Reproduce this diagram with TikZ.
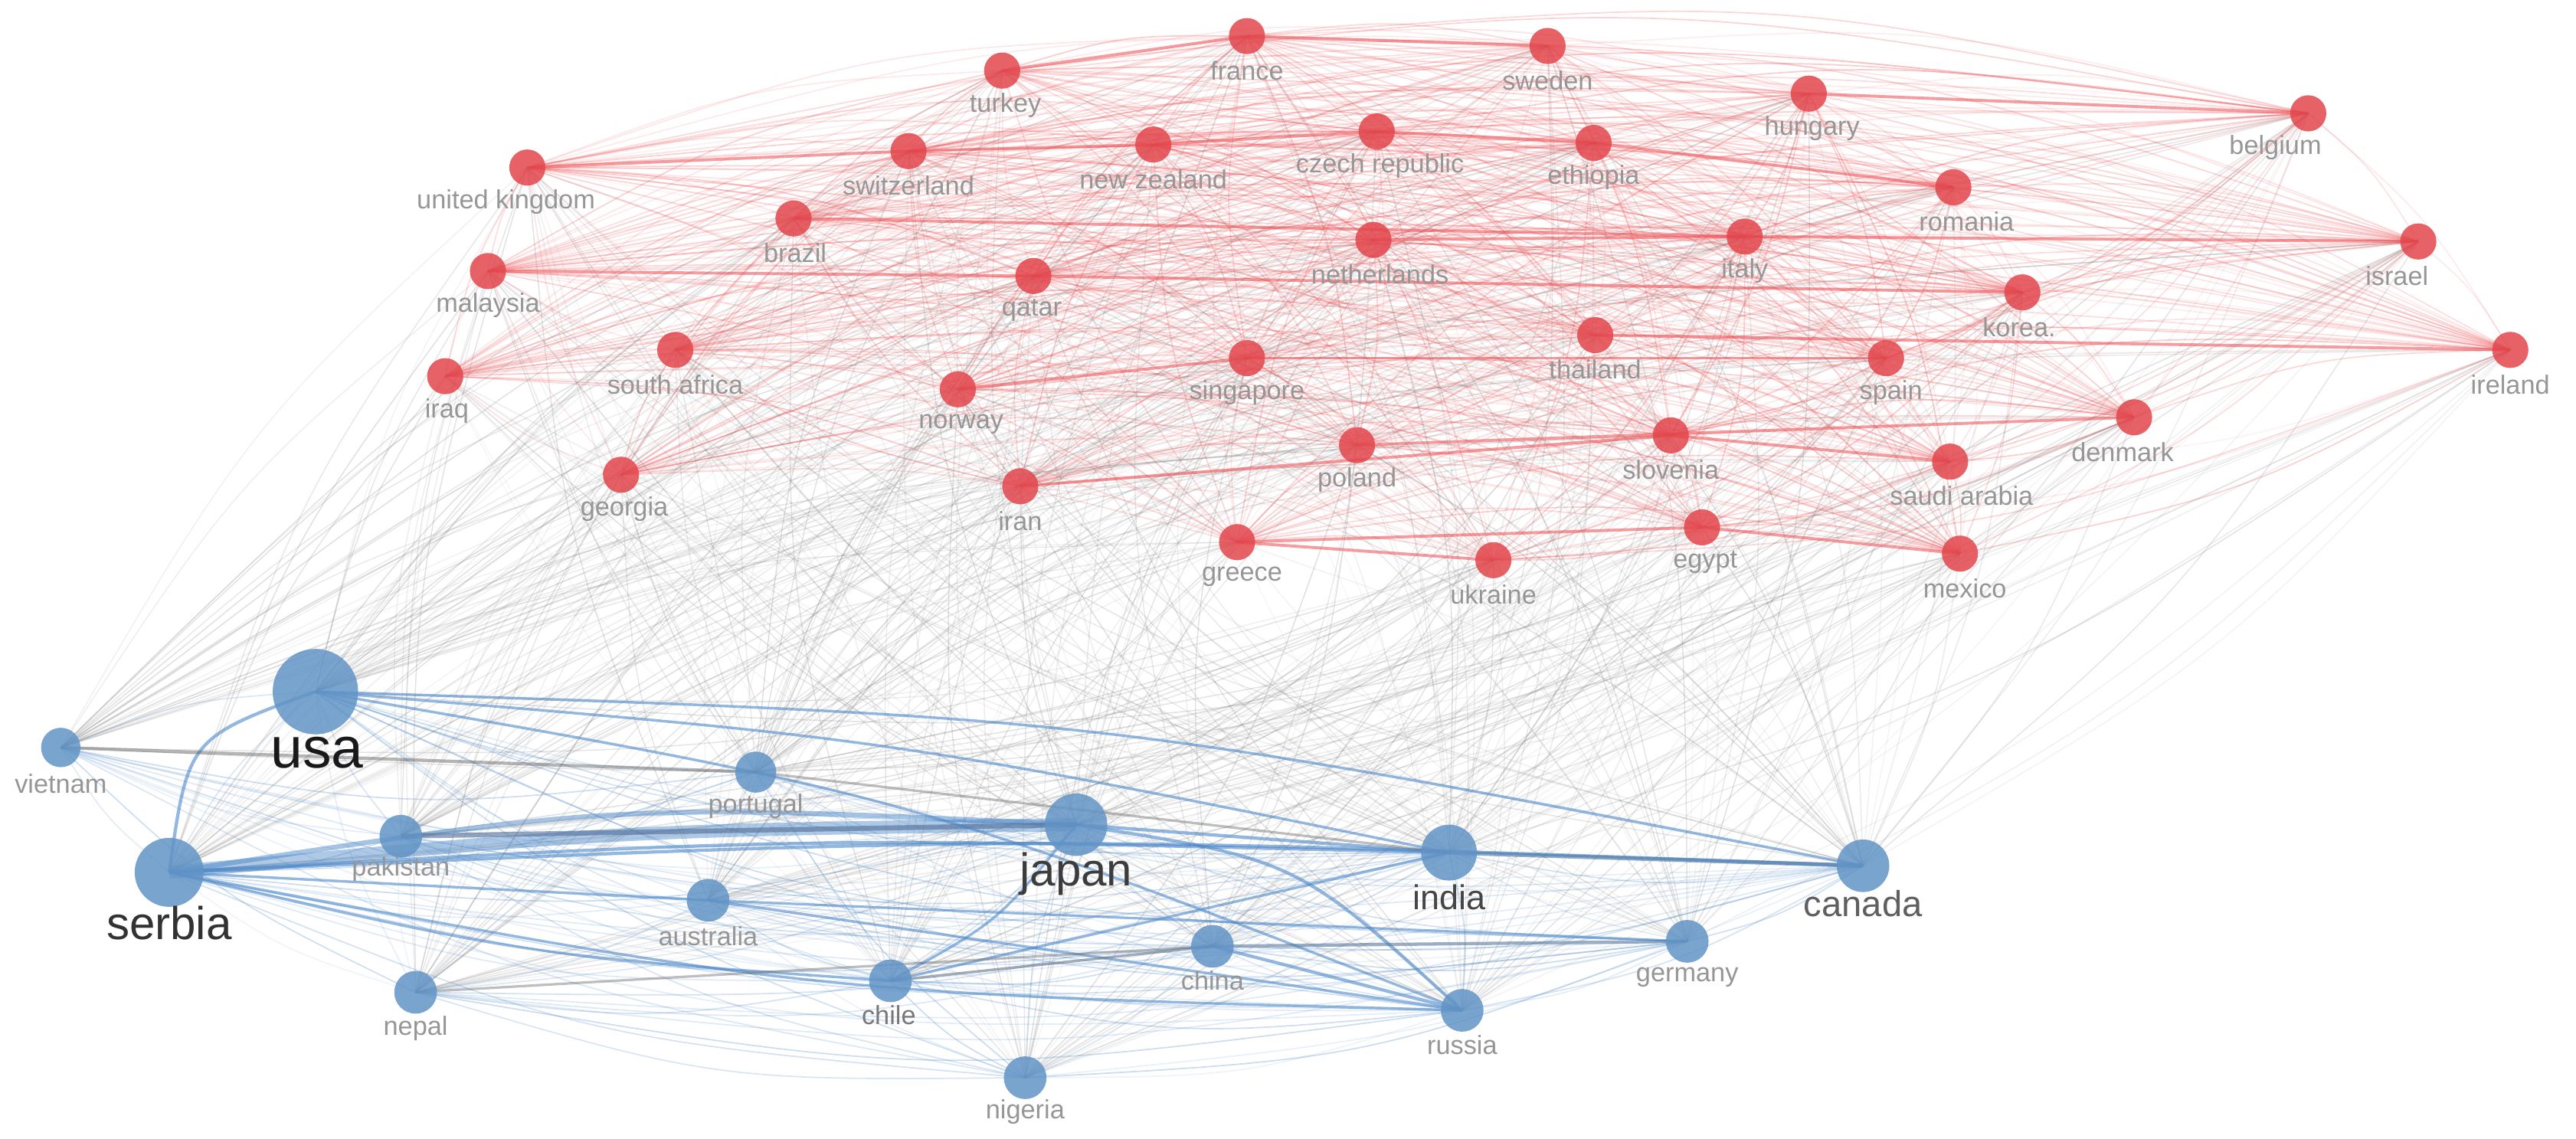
\documentclass[tikz,border=0pt]{standalone}
\usepackage{fontspec}
\setmainfont{Liberation Sans}
\pgfdeclarelayer{edgelayer}
\pgfsetlayers{edgelayer,main}
\definecolor{nodered}{RGB}{226,70,76}
\definecolor{nodeblue}{RGB}{98,148,198}
\definecolor{edgered}{RGB}{235,75,80}
\definecolor{edgeblue}{RGB}{75,135,200}
\definecolor{edgegray}{RGB}{120,120,120}
\definecolor{labgray}{RGB}{150,150,150}
\tikzset{
  rnode/.style={circle, fill=nodered, fill opacity=0.85, draw=none, inner sep=0pt, minimum size=22pt},
  bnode/.style={circle, fill=nodeblue, fill opacity=0.85, draw=none, inner sep=0pt, minimum size=#1},
  lab/.style={font=\fontsize{16}{16}\selectfont, text=labgray, inner sep=0pt},
  biglab/.style={font=\fontsize{#1}{#1}\selectfont, inner sep=0pt},
  redmesh/.style={draw=edgered, line width=0.8pt},
  graymesh/.style={draw=edgegray, line width=0.7pt},
  bluemesh/.style={draw=edgeblue, line width=0.8pt},
  redstrong/.style={draw=edgered, line width=1.8pt, opacity=0.55},
  bluestrong/.style={draw=edgeblue, opacity=0.6, line width=1.6pt},
}
% curved connector between two named nodes, control point offset k (fraction of length)
\newcommand\arcedge[4]{%
  \path (#2.center); \pgfgetlastxy{\arcXa}{\arcYa}%
  \path (#3.center); \pgfgetlastxy{\arcXb}{\arcYb}%
  \pgfmathsetmacro\arcCx{(\arcXa+\arcXb)/2-(#4)*(\arcYb-\arcYa)}%
  \pgfmathsetmacro\arcCy{(\arcYa+\arcYb)/2+(#4)*(\arcXb-\arcXa)}%
  \draw[#1] (#2.center) .. controls (\arcCx pt,\arcCy pt) .. (#3.center);%
}
% curved connector bulging away from the centre of the map
\newcommand\meshedge[3]{%
  \path (#2.center); \pgfgetlastxy{\arcXa}{\arcYa}%
  \path (#3.center); \pgfgetlastxy{\arcXb}{\arcYb}%
  \pgfmathsetmacro\arcS{((\arcXa-780)/100)*((\arcYb-343)/100)-((\arcYa-343)/100)*((\arcXb-780)/100)}%
  \pgfmathsetmacro\arcK{\arcS>0 ? -0.075 : 0.075}%
  \pgfmathsetmacro\arcCx{(\arcXa+\arcXb)/2-\arcK*(\arcYb-\arcYa)}%
  \pgfmathsetmacro\arcCy{(\arcYa+\arcYb)/2+\arcK*(\arcXb-\arcXa)}%
  \draw[#1] (#2.center) .. controls (\arcCx pt,\arcCy pt) .. (#3.center);%
}
\def\redlist{france/759/671/france/0, sweden/942/665/sweden/0, turkey/610/650/turkey/2,
hungary/1101/636/hungary/2, belgium/1405/624/belgium/-20, switzerland/553/601/switzerland/0,
newzealand/702/605/new zealand/0, czech/838/613/czech republic/2, ethiopia/970/606/ethiopia/0,
uk/321/591/united kingdom/-13, romania/1189/579/romania/8, brazil/483/560/brazil/1,
netherlands/836/547/netherlands/4, italy/1062/549/italy/0, israel/1472/546/israel/-13,
malaysia/297/528/malaysia/0, qatar/629/525/qatar/-1, korea/1231/515/korea./-2,
thailand/971/489/thailand/0, ireland/1528/480/ireland/0, iraq/271/464/iraq/1,
southafrica/411/480/south africa/0, norway/583/456/norway/2, singapore/759/475/singapore/0,
spain/1148/475/spain/3, denmark/1299/439/denmark/-7, slovenia/1017/428/slovenia/0,
poland/826/422/poland/0, saudi/1187/412/saudi arabia/7, georgia/378/404/georgia/2,
iran/621/397/iran/0, egypt/1036/372/egypt/2, greece/753/363/greece/3,
ukraine/909/352/ukraine/0, mexico/1193/356/mexico/3}
\def\bluelist{usa/192/272/52, vietnam/37/238/24, portugal/460/223/25, pakistan/244/184/26,
japan/655/191/38, serbia/103/162/42, india/882/174/34, canada/1134/166/32,
australia/431/145/26, china/738/117/26, germany/1027/120/26, chile/542/96/26,
nepal/253/89/26, russia/890/78/26, nigeria/624/37/26}
\begin{document}
\begin{tikzpicture}[x=1pt,y=1pt]
\useasboundingbox (0,0) rectangle (1568,693);
\pgfmathsetseed{11}
% nodes
\foreach \n/\x/\y/\t/\d in \redlist {
  \node[rnode] (\n) at (\x,\y) {};
  \node[lab] (l\n) at (\x+\d,\y-21) {\t};
}
\foreach \n/\x/\y/\s in \bluelist {
  \node[bnode=\s pt] (\n) at (\x,\y) {};
}
% labels of blue nodes
\node[biglab=35, text={rgb,255:red,25;green,25;blue,25}] (lusa) at (193,235) {usa};
\node[lab] (lvietnam) at (37,216) {vietnam};
\node[lab] (lportugal) at (460,202) {portugal};
\node[lab] (lpakistan) at (244,164) {pakistan};
\node[biglab=28, text={rgb,255:red,60;green,60;blue,60}] (ljapan) at (655,161) {japan};
\node[biglab=28, text={rgb,255:red,50;green,50;blue,50}] (lserbia) at (103,131) {serbia};
\node[biglab=21, text={rgb,255:red,70;green,70;blue,70}] (lindia) at (882,147) {india};
\node[biglab=22, text={rgb,255:red,95;green,95;blue,95}] (lcanada) at (1134,143) {canada};
\node[lab] (laustralia) at (431,123) {australia};
\node[lab] (lchina) at (738,96) {china};
\node[lab] (lgermany) at (1027,98) {germany};
\node[lab, text={rgb,255:red,120;green,120;blue,120}] (lchile) at (541,75) {chile};
\node[lab] (lnepal) at (253,67) {nepal};
\node[lab] (lrussia) at (890,57) {russia};
\node[lab] (lnigeria) at (624,16) {nigeria};
\begin{pgfonlayer}{edgelayer}
% red-red mesh
\foreach \na/\ax/\ay/\at/\ad [count=\ci] in \redlist {
  \foreach \nb/\bx/\by/\bt/\bd [count=\cj] in \redlist {
    \ifnum\cj>\ci\relax
      \pgfmathsetmacro\op{0.07+0.22*rnd}
      \meshedge{redmesh, opacity=\op}{\na}{\nb}
    \fi
  }
}
% red-blue mesh
\foreach \na/\ax/\ay/\at/\ad in \redlist {
  \foreach \nb/\bx/\by/\bs in \bluelist {
    \pgfmathtruncatemacro\keep{rnd<0.9}
    \ifnum\keep=1\relax
      \pgfmathsetmacro\op{0.06+0.17*rnd}
      \meshedge{graymesh, opacity=\op}{\na}{\nb}
    \fi
  }
}
% blue-blue mesh
\foreach \na/\ax/\ay/\as [count=\ci] in \bluelist {
  \foreach \nb/\bx/\by/\bs [count=\cj] in \bluelist {
    \ifnum\cj>\ci\relax
      \pgfmathsetmacro\op{0.08+0.22*rnd}
      \meshedge{bluemesh, opacity=\op}{\na}{\nb}
    \fi
  }
}
% strong red links
\foreach \na/\nb in {turkey/france, france/sweden, uk/switzerland, switzerland/newzealand,
  newzealand/czech, czech/ethiopia, brazil/italy, netherlands/italy, italy/israel,
  malaysia/qatar, qatar/korea, singapore/spain, thailand/ireland, norway/singapore,
  slovenia/saudi, iran/slovenia, greece/egypt, hungary/belgium, ethiopia/romania,
  egypt/mexico, poland/denmark, greece/ukraine}
  \draw[redstrong] (\na.center) -- (\nb.center);
% strong blue links
\arcedge{bluestrong, line width=8pt, opacity=0.45}{serbia}{japan}{0.02}
\arcedge{bluestrong, line width=3pt, opacity=0.5}{serbia}{japan}{0.05}
\draw[bluestrong, line width=3pt, draw={rgb,255:red,80;green,110;blue,150}] (pakistan.center) -- (japan.center);
\arcedge{bluestrong, line width=2pt}{serbia}{usa}{0.3}
\arcedge{bluestrong}{usa}{canada}{0.04}
\arcedge{bluestrong}{usa}{india}{0.03}
\arcedge{bluestrong}{usa}{russia}{0.05}
\arcedge{bluestrong, line width=2pt}{japan}{russia}{0.15}
\draw[bluestrong, line width=2pt] (japan.center) -- (india.center);
\arcedge{bluestrong, line width=2pt}{serbia}{india}{0.02}
\arcedge{bluestrong, line width=2pt}{serbia}{canada}{0.02}
\draw[bluestrong, line width=2.5pt, draw={rgb,255:red,70;green,115;blue,165}] (india.center) -- (canada.center);
\draw[bluestrong, line width=2pt, draw={rgb,255:red,90;green,120;blue,155}] (china.center) -- (germany.center);
\draw[bluestrong, line width=1.5pt] (australia.center) -- (germany.center);
\draw[bluestrong] (australia.center) -- (russia.center);
\arcedge{bluestrong}{chile}{japan}{-0.1}
\draw[bluestrong, draw={rgb,255:red,100;green,115;blue,135}] (chile.center) -- (china.center);
\draw[bluestrong] (chile.center) -- (india.center);
\draw[bluestrong, line width=2pt] (china.center) -- (russia.center);
\arcedge{bluestrong}{serbia}{russia}{-0.04}
\arcedge{bluestrong}{serbia}{chile}{-0.04}
\draw[bluestrong] (serbia.center) -- (australia.center);
\draw[bluestrong, line width=2pt, opacity=0.45, draw={rgb,255:red,90;green,90;blue,90}] (vietnam.center) -- (portugal.center);
\draw[bluestrong, line width=1.5pt, opacity=0.45, draw={rgb,255:red,110;green,110;blue,110}] (nepal.center) -- (china.center);
\draw[bluestrong, line width=1.5pt, opacity=0.45, draw={rgb,255:red,110;green,110;blue,110}] (portugal.center) -- (india.center);
\end{pgfonlayer}
\end{tikzpicture}
\end{document}
